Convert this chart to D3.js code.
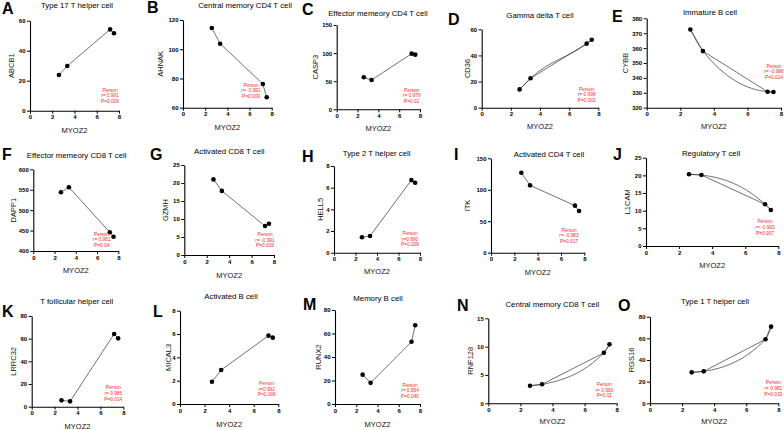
<!DOCTYPE html>
<html><head><meta charset="utf-8">
<script src="https://cdn.jsdelivr.net/npm/d3@7"></script>
<style>
html,body{margin:0;padding:0;background:#fff;}
svg{display:block;font-family:"Liberation Sans",Arial,Helvetica,sans-serif;}
</style></head>
<body><svg id="c" width="784" height="430"></svg>
<script>
// ---- data ----
const panelLetters = ["A","B","C","D","E","F","G","H","I","J","K","L","M","N","O"];
const cellTypes = ["Type 17 T helper cell","Central memory CD4 T cell","Effector memeory CD4 T cell","Gamma delta T cell","Immature  B cell",
  "Effector memeory CD8 T cell","Activated CD8 T cell","Type 2 T helper cell","Activated CD4 T cell","Regulatory T cell",
  "T follicular helper cell","Activated B cell","Memory B cell","Central memory CD8 T cell","Type 1 T helper cell"];
const genes = ["ABCB1","AHNAK","CASP3","CD36","CYBB","DAPP1","GZMH","HELL5","ITK","L1CAM","LRRC32","MICAL3","RUNX2","RNF128","RGS16"];
const myoz2 = [2.6, 3.35, 7.2, 7.55];
const geneValues = [
  [23.8, 29.8, 54.2, 51.6],
  [114.5, 103.8, 76.2, 67.1],
  [57, 52.2, 99, 97.2],
  [14, 22.5, 49, 52],
  [372.5, 358, 330.7, 330.5],
  [544, 556, 446, 435],
  [21, 17.8, 8.05, 8.7],
  [1.42, 1.54, 6.7, 6.46],
  [127, 107, 74.8, 66.3],
  [20.3, 20.1, 11.8, 10.2],
  [5.6, 4.7, 64.1, 60.3],
  [1.91, 2.91, 5.86, 5.69],
  [25, 18, 53, 67],
  [3.1, 3.35, 8.9, 10.4],
  [28.6, 29.5, 59.1, 70.8]
];
const yTicks = [
  [0,20,40,60],[60,80,100,120],[0,50,100,150],[0,20,40,60],[320,330,340,350,360,370,380],
  [400,450,500,550,600],[0,5,10,15,20,25],[0,2,4,6,8],[0,50,100,150],[0,5,10,15,20,25],
  [0,20,40,60,80],[0,2,4,6,8],[0,20,40,60,80],[0,5,10,15],[0,20,40,60,80]
];
const xTicks = [0,2,4,6,8];
const rLabels = ["r= 0.991","r= -0.991","r= 0.979","r= 0.998","r= -0.986","r= 0.961","r= -0.991","r=0.990","r= -0.983","r= -0.993",
  "r= 0.986","r=0.992","r= 0.954","r= 0.990","r= 0.981"];
const pLabels = ["P=0.009","P=0.009","P=0.02","P=0.002","P=0.014","P=0.04","P=0.009","P=0.009","P=0.017","P=0.007",
  "P=0.014","P=0.008","P=0.046","P=0.01","P=0.019"];
const smoothPanels = ["D","E","J","N","O"];

// ---- layout (pixel geometry per panel) ----
const layout = [
  {L:30,R:119,T:20.7,B:110.7,tx:77,ty:5.5,lx:2,ly:13.5,yl:11.7,xl:130.7,rx:110,ry:90},
  {L:183,R:271.7,T:20,B:107.7,tx:245,ty:5.5,lx:147,ly:13.3,yl:160,xl:127,rx:251,ry:85},
  {L:336.7,R:420,T:25,B:109.3,tx:378,ty:13.3,lx:302,ly:15,yl:315,xl:128.3,rx:411.7,ry:90},
  {L:481.7,R:598.3,T:29.3,B:107.7,tx:540,ty:15.7,lx:448,ly:25,yl:467,xl:126.7,rx:586.7,ry:89},
  {L:646.7,R:781,T:18.3,B:107.7,tx:710,ty:12.7,lx:612,ly:21.7,yl:625,xl:126.7,rx:774,ry:66},
  {L:33.3,R:118.3,T:169.3,B:251,tx:76.7,ty:155,lx:2,ly:160,yl:13.3,xl:270,rx:101.7,ry:234},
  {L:184.3,R:274,T:165,B:255,tx:229.3,ty:151,lx:150,ly:160,yl:165,xl:275,rx:265,ry:234.3},
  {L:334,R:420,T:166,B:252.7,tx:376.7,ty:153.3,lx:302,ly:162,yl:320,xl:271.7,rx:410,ry:233.3},
  {L:491,R:584.3,T:158.3,B:252.7,tx:549,ty:154.3,lx:454,ly:160,yl:467,xl:272.3,rx:569,ry:230},
  {L:646,R:778.3,T:157.7,B:246,tx:711,ty:153.3,lx:613,ly:160,yl:627.3,xl:265,rx:765,ry:221.7},
  {L:31.7,R:123.3,T:316,B:406.7,tx:76.7,ty:301.7,lx:2,ly:317.3,yl:13.3,xl:426.7,rx:113.3,ry:387.7},
  {L:180,R:278.3,T:310.7,B:404,tx:231,ty:296,lx:153,ly:317,yl:168.3,xl:424.3,rx:266.7,ry:383.3},
  {L:335,R:420,T:310,B:404,tx:378,ty:298,lx:303,ly:310,yl:318,xl:424,rx:410,ry:385},
  {L:488.3,R:616.7,T:318.3,B:403.3,tx:552.3,ty:304,lx:457,ly:311,yl:470,xl:421.7,rx:604.3,ry:384.3},
  {L:650,R:778.3,T:316.7,B:403.3,tx:715,ty:301.7,lx:618,ly:311,yl:631.7,xl:421.7,rx:773.3,ry:382.7}
];

const svg = d3.select("#c");

panelLetters.forEach((letter, i) => {
  const g = layout[i];
  const yt = yTicks[i];
  const x = d3.scaleLinear().domain([0, 8]).range([g.L, g.R]);
  const y = d3.scaleLinear().domain([yt[0], yt[yt.length-1]]).range([g.B, g.T]);
  const pts = myoz2.map((v, k) => [v, geneValues[i][k]]);
  const p = svg.append("g");

  p.append("text").attr("x", g.lx).attr("y", g.ly).attr("font-size", 16).attr("font-weight", "bold")
    .attr("fill", "#000").text(letter);
  p.append("text").attr("x", g.tx).attr("y", g.ty).attr("dy", "0.35em").attr("text-anchor", "middle")
    .attr("font-size", 7.8).attr("fill", "#000").text(cellTypes[i]);

  const ax = p.append("g").attr("transform", `translate(0,${g.B})`)
    .call(d3.axisBottom(x).tickValues(xTicks).tickSize(3).tickSizeOuter(0).tickPadding(1.5));
  const ay = p.append("g").attr("transform", `translate(${g.L},0)`)
    .call(d3.axisLeft(y).tickValues(yt).tickSize(3).tickSizeOuter(0).tickPadding(1.5));
  [ax, ay].forEach(a => {
    a.select(".domain").attr("stroke", "#000").attr("stroke-width", 1.1);
    a.selectAll(".tick line").attr("stroke", "#000").attr("stroke-width", 1);
    a.selectAll(".tick text").attr("font-size", 6).attr("font-weight", "bold").attr("fill", "#000")
      .attr("font-family", '"Liberation Sans",Arial,sans-serif');
  });

  p.append("text").attr("x", (g.L + g.R) / 2).attr("y", g.xl).attr("dy", "0.35em").attr("text-anchor", "middle")
    .attr("font-size", 7.5).attr("fill", "#111").text("MYOZ2");
  p.append("text").attr("transform", `translate(${g.yl},${(g.T + g.B) / 2}) rotate(-90)`).attr("dy", "0.35em")
    .attr("text-anchor", "middle").attr("font-size", 7.5).attr("fill", "#111").text(genes[i]);

  const line = d3.line().x(d => x(d[0])).y(d => y(d[1]));
  p.append("path").attr("d", line(pts)).attr("fill", "none").attr("stroke", "#333").attr("stroke-width", 0.7);
  if (smoothPanels.includes(letter)) {
    const curve = d3.line().x(d => x(d[0])).y(d => y(d[1])).curve(d3.curveMonotoneX);
    p.append("path").attr("d", curve(pts)).attr("fill", "none").attr("stroke", "#333").attr("stroke-width", 0.7);
  }
  p.selectAll("circle").data(pts).join("circle")
    .attr("cx", d => x(d[0])).attr("cy", d => y(d[1])).attr("r", 2.3).attr("fill", "#000");

  const st = p.append("text").attr("text-anchor", "middle").attr("font-size", 4.8).attr("fill", "#ff2a2a");
  ["Person", rLabels[i], pLabels[i]].forEach((t, k) => {
    st.append("tspan").attr("x", g.rx).attr("y", g.ry + k * 5.6).attr("dy", "0.35em").text(t);
  });
});
</script>
</body></html>
